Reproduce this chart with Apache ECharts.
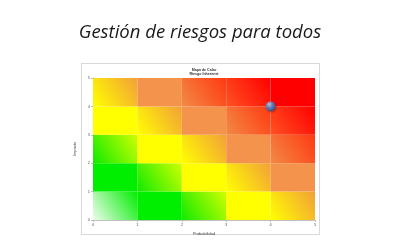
<!DOCTYPE html>
<html>
<head>
<meta charset="utf-8">
<script src="https://cdn.jsdelivr.net/npm/echarts@6/dist/echarts.min.js"></script>
<style>
html,body{margin:0;padding:0;background:#fff;}
#frame{position:absolute;left:81px;top:63px;width:237px;height:170px;border:1px solid #d9d9d9;background:#fff;}
#chart{position:absolute;left:0;top:0;width:400px;height:250px;}
</style>
</head>
<body>
<div id="frame"></div>
<div id="chart"></div>
<script>
// ---- data ----
const pageTitle = 'Gestión de riesgos para todos';
const chartTitleLines = ['Mapa de Calor', 'Riesgo Inherente'];
const xAxisName = 'Probabilidad';
const yAxisName = 'Impacto';
const axisTicks = [0, 1, 2, 3, 4, 5];
// risk level per cell, rows = impacto 0..4 (bottom to top), cols = probabilidad 0..4
const riskLevels = [
  [0, 1, 2, 3, 4],
  [1, 2, 3, 4, 5],
  [2, 3, 4, 5, 6],
  [3, 4, 5, 6, 7],
  [4, 5, 6, 7, 8]
];
// inherent risk point [probabilidad, impacto]
const riskPoint = [[4, 4]];

// ---- styles ----
const levelColors = [
  ['#eefcee', '#00ee00'],
  ['#00ee00', '#00ee00'],
  ['#10ea00', '#d0ff00'],
  ['#ffff00', '#ffff00'],
  ['#ffff00', '#f2a038'],
  ['#f4944c', '#f4944c'],
  ['#f28a45', '#ff3a12'],
  ['#ff5222', '#ff0000'],
  ['#ff0000', '#ff0000']
];

const cells = [];
riskLevels.forEach((row, i) => row.forEach((lvl, j) => cells.push([j, i, lvl])));

const chart = echarts.init(document.getElementById('chart'), null, {renderer: 'canvas'});
const axisCommon = {
  type: 'value', min: axisTicks[0], max: axisTicks[axisTicks.length - 1], interval: 1,
  splitLine: {show: false},
  axisLine: {show: true, lineStyle: {color: '#bfbfbf', width: 1}},
  axisTick: {show: true, length: 2, lineStyle: {color: '#bfbfbf'}},
  axisLabel: {fontSize: 4, color: '#595959', margin: 3, fontFamily: 'Liberation Sans'},
  nameLocation: 'middle',
  nameTextStyle: {fontSize: 4, color: '#404040', fontFamily: 'Liberation Sans'}
};
chart.setOption({
  animation: false,
  backgroundColor: 'transparent',
  title: [
    {text: pageTitle, left: 'center', top: 18,
     textStyle: {fontFamily: 'Open Sans', fontStyle: 'italic', fontWeight: 'normal', fontSize: 18.5, color: '#1a1a1a'}},
    {text: chartTitleLines.join('\n'), left: 199, top: 63, textAlign: 'center',
     textStyle: {fontFamily: 'Liberation Sans', fontWeight: 'bold', fontSize: 3.6, lineHeight: 3.8, color: '#333'}}
  ],
  grid: {left: 93, right: 85, top: 78, bottom: 30},
  xAxis: Object.assign({}, axisCommon, {name: xAxisName, nameGap: 8}),
  yAxis: Object.assign({}, axisCommon, {name: yAxisName, nameGap: 6, nameRotate: 90}),
  series: [
    {
      type: 'custom',
      data: cells,
      z: 1,
      renderItem: function (params, api) {
        const x = api.value(0), y = api.value(1), lvl = api.value(2);
        const p0 = api.coord([x, y]);
        const p1 = api.coord([x + 1, y + 1]);
        const c = levelColors[lvl];
        return {
          type: 'rect',
          shape: {x: p0[0], y: p1[1], width: p1[0] - p0[0], height: p0[1] - p1[1]},
          style: {fill: new echarts.graphic.LinearGradient(0, 1, 1, 0, [
            {offset: 0, color: c[0]}, {offset: 1, color: c[1]}
          ])}
        };
      }
    },
    {
      type: 'scatter',
      data: riskPoint,
      z: 5,
      symbolSize: 10,
      itemStyle: {
        color: new echarts.graphic.RadialGradient(0.38, 0.3, 0.75, [
          {offset: 0, color: '#c6e4ff'},
          {offset: 0.45, color: '#4a90dc'},
          {offset: 1, color: '#1c4f96'}
        ]),
        shadowBlur: 2, shadowColor: 'rgba(0,0,0,0.35)', shadowOffsetX: 1, shadowOffsetY: 1
      }
    }
  ]
});
</script>
</body>
</html>
